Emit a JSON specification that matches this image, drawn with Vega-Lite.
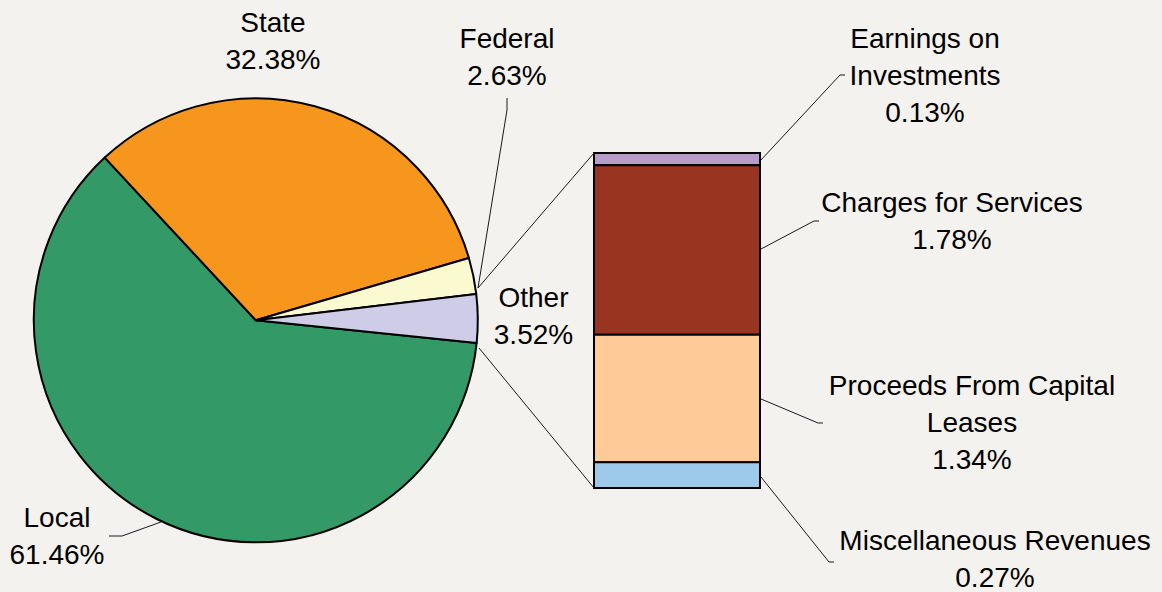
{
  "$schema": "https://vega.github.io/schema/vega-lite/v6.json",
  "width": 1162,
  "height": 592,
  "autosize": "none",
  "padding": 0,
  "background": "#F4F2EE",
  "config": {
    "view": {"stroke": null},
    "axis": {"disable": true},
    "text": {"font": "Liberation Sans", "fontSize": 28, "lineHeight": 37, "color": "#000000", "align": "center", "baseline": "middle"},
    "rule": {"color": "#1a1a1a", "strokeWidth": 1}
  },
  "datasets": {
    "sources": [
      {"cat": "Local", "pct": 61.46},
      {"cat": "State", "pct": 32.38},
      {"cat": "Federal", "pct": 2.63},
      {"cat": "Other", "pct": 3.52}
    ],
    "other": [
      {"cat": "Earnings on Investments", "pct": 0.13},
      {"cat": "Charges for Services", "pct": 1.78},
      {"cat": "Proceeds From Capital Leases", "pct": 1.34},
      {"cat": "Miscellaneous Revenues", "pct": 0.27}
    ]
  },
  "resolve": {"scale": {"color": "independent"}},
  "layer": [
    {
      "data": {"name": "sources"},
      "transform": [
        {"calculate": "indexof(['Local','State','Federal','Other'], datum.cat)", "as": "o"},
        {"stack": "pct", "groupby": [], "sort": [{"field": "o", "order": "ascending"}], "as": ["t0", "t1"]}
      ],
      "mark": {"type": "arc", "outerRadius": 222, "stroke": "#000000", "strokeWidth": 2, "strokeJoin": "round"},
      "encoding": {
        "x": {"datum": 255.8, "type": "quantitative", "scale": {"domain": [0, 1162], "nice": false, "zero": false}},
        "y": {"datum": 1.7621, "type": "quantitative", "scale": {"domain": [-1.0928, 5.1276], "nice": false, "zero": false}},
        "theta": {"field": "t1", "type": "quantitative", "scale": {"zero": true, "nice": false, "range": [1.6729, 7.9561]}},
        "theta2": {"field": "t0"},
        "color": {
          "field": "cat", "type": "nominal", "legend": null,
          "scale": {"domain": ["Local", "State", "Federal", "Other"], "range": ["#339966", "#F7961D", "#FBF9D0", "#CECCE7"]}
        }
      }
    },
    {
      "data": {"name": "other"},
      "transform": [
        {"calculate": "indexof(['Miscellaneous Revenues','Proceeds From Capital Leases','Charges for Services','Earnings on Investments'], datum.cat)", "as": "o"},
        {"stack": "pct", "groupby": [], "sort": [{"field": "o", "order": "ascending"}], "as": ["b0", "b1"]}
      ],
      "mark": {"type": "rect", "stroke": "#000000", "strokeWidth": 2},
      "encoding": {
        "x": {"datum": 594, "type": "quantitative"},
        "x2": {"datum": 760},
        "y": {"field": "b0", "type": "quantitative"},
        "y2": {"field": "b1"},
        "color": {
          "field": "cat", "type": "nominal", "legend": null,
          "scale": {"domain": ["Earnings on Investments", "Charges for Services", "Proceeds From Capital Leases", "Miscellaneous Revenues"], "range": ["#B89BC9", "#983420", "#FECB98", "#9DC9EA"]}
        }
      }
    },
    {"data": {"values": [{}]}, "mark": "rule", "encoding": {"x": {"datum": 478}, "y": {"datum": 2.1015}, "x2": {"datum": 594}, "y2": {"datum": 3.52}}},
    {"data": {"values": [{}]}, "mark": "rule", "encoding": {"x": {"datum": 479}, "y": {"datum": 1.471}, "x2": {"datum": 594}, "y2": {"datum": 0}}},
    {"data": {"values": [{}]}, "mark": "rule", "encoding": {"x": {"datum": 507}, "y": {"datum": 4.0979}, "x2": {"datum": 507}, "y2": {"datum": 3.9718}}},
    {"data": {"values": [{}]}, "mark": "rule", "encoding": {"x": {"datum": 507}, "y": {"datum": 3.9718}, "x2": {"datum": 478}, "y2": {"datum": 2.1015}}},
    {"data": {"values": [{}]}, "mark": "rule", "encoding": {"x": {"datum": 109}, "y": {"datum": -0.5044}, "x2": {"datum": 122}, "y2": {"datum": -0.5044}}},
    {"data": {"values": [{}]}, "mark": "rule", "encoding": {"x": {"datum": 122}, "y": {"datum": -0.5044}, "x2": {"datum": 161}, "y2": {"datum": -0.3573}}},
    {"data": {"values": [{}]}, "mark": "rule", "encoding": {"x": {"datum": 845}, "y": {"datum": 4.3396}, "x2": {"datum": 840}, "y2": {"datum": 4.3396}}},
    {"data": {"values": [{}]}, "mark": "rule", "encoding": {"x": {"datum": 840}, "y": {"datum": 4.3396}, "x2": {"datum": 761}, "y2": {"datum": 3.4464}}},
    {"data": {"values": [{}]}, "mark": "rule", "encoding": {"x": {"datum": 819}, "y": {"datum": 2.8055}, "x2": {"datum": 814}, "y2": {"datum": 2.8055}}},
    {"data": {"values": [{}]}, "mark": "rule", "encoding": {"x": {"datum": 814}, "y": {"datum": 2.8055}, "x2": {"datum": 761}, "y2": {"datum": 2.5113}}},
    {"data": {"values": [{}]}, "mark": "rule", "encoding": {"x": {"datum": 823}, "y": {"datum": 0.683}, "x2": {"datum": 818}, "y2": {"datum": 0.683}}},
    {"data": {"values": [{}]}, "mark": "rule", "encoding": {"x": {"datum": 818}, "y": {"datum": 0.683}, "x2": {"datum": 761}, "y2": {"datum": 0.9352}}},
    {"data": {"values": [{}]}, "mark": "rule", "encoding": {"x": {"datum": 834}, "y": {"datum": -0.7776}, "x2": {"datum": 829}, "y2": {"datum": -0.7776}}},
    {"data": {"values": [{}]}, "mark": "rule", "encoding": {"x": {"datum": 829}, "y": {"datum": -0.7776}, "x2": {"datum": 761}, "y2": {"datum": 0.1156}}},
    {
      "data": {"name": "sources"},
      "transform": [{"filter": "datum.cat == 'State'"}, {"calculate": "split(datum.cat + '|' + format(datum.pct, '.2f') + '%', '|')", "as": "lbl"}],
      "mark": "text",
      "encoding": {"x": {"datum": 273}, "y": {"datum": 4.8755}, "text": {"field": "lbl"}}
    },
    {
      "data": {"name": "sources"},
      "transform": [{"filter": "datum.cat == 'Federal'"}, {"calculate": "split(datum.cat + '|' + format(datum.pct, '.2f') + '%', '|')", "as": "lbl"}],
      "mark": "text",
      "encoding": {"x": {"datum": 507}, "y": {"datum": 4.7073}, "text": {"field": "lbl"}}
    },
    {
      "data": {"name": "sources"},
      "transform": [{"filter": "datum.cat == 'Other'"}, {"calculate": "split(datum.cat + '|' + format(datum.pct, '.2f') + '%', '|')", "as": "lbl"}],
      "mark": "text",
      "encoding": {"x": {"datum": 533.5}, "y": {"datum": 1.9807}, "text": {"field": "lbl"}}
    },
    {
      "data": {"name": "sources"},
      "transform": [{"filter": "datum.cat == 'Local'"}, {"calculate": "split(datum.cat + '|' + format(datum.pct, '.2f') + '%', '|')", "as": "lbl"}],
      "mark": "text",
      "encoding": {"x": {"datum": 57}, "y": {"datum": -0.3257}, "text": {"field": "lbl"}}
    },
    {
      "data": {"name": "other"},
      "transform": [{"filter": "datum.cat == 'Earnings on Investments'"}, {"calculate": "split(replace(datum.cat, 'on ', 'on|') + '|' + format(datum.pct, '.2f') + '%', '|')", "as": "lbl"}],
      "mark": "text",
      "encoding": {"x": {"datum": 925}, "y": {"datum": 4.7073}, "text": {"field": "lbl"}}
    },
    {
      "data": {"name": "other"},
      "transform": [{"filter": "datum.cat == 'Charges for Services'"}, {"calculate": "split(datum.cat + '|' + format(datum.pct, '.2f') + '%', '|')", "as": "lbl"}],
      "mark": "text",
      "encoding": {"x": {"datum": 952}, "y": {"datum": 2.9841}, "text": {"field": "lbl"}}
    },
    {
      "data": {"name": "other"},
      "transform": [{"filter": "datum.cat == 'Proceeds From Capital Leases'"}, {"calculate": "split(replace(datum.cat, ' Leases', '|Leases') + '|' + format(datum.pct, '.2f') + '%', '|')", "as": "lbl"}],
      "mark": "text",
      "encoding": {"x": {"datum": 972}, "y": {"datum": 1.0613}, "text": {"field": "lbl"}}
    },
    {
      "data": {"name": "other"},
      "transform": [{"filter": "datum.cat == 'Miscellaneous Revenues'"}, {"calculate": "split(datum.cat + '|' + format(datum.pct, '.2f') + '%', '|')", "as": "lbl"}],
      "mark": "text",
      "encoding": {"x": {"datum": 995}, "y": {"datum": -0.5674}, "text": {"field": "lbl"}}
    }
  ]
}
